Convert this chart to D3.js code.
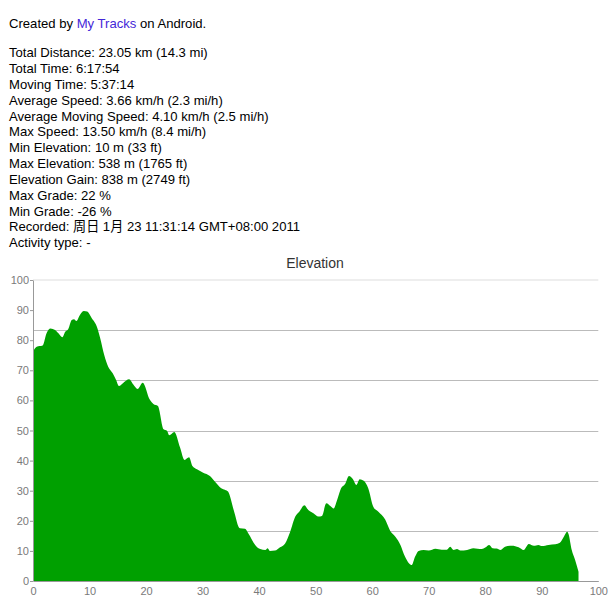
<!DOCTYPE html>
<html>
<head>
<meta charset="utf-8">
<style>
	body {
		margin: 0;
		background: white;
		font-family: "Liberation Sans", Arial, "Noto Sans CJK SC", sans-serif;
	}
	svg {
		position: absolute;
		left: 0;
		top: 0;
	}
	.info {
		font-size: 13.1px;
		fill: #000;
	}
	.link {
		fill: #4427d8;
	}
	.axis path, .axis line {
		stroke: #999;
	}
	.axis text {
		fill: #7a7a7a;
		font-size: 11px;
		font-family: "Liberation Sans", Arial, sans-serif;
	}
	.grid {
		stroke: #bbb;
	}
	.gridtop {
		stroke: #ddd;
	}
	.area {
		fill: #00a000;
	}
</style>
</head>
<body>
<svg width="610" height="605"></svg>

<script src="https://cdn.jsdelivr.net/npm/d3@7/dist/d3.min.js"></script>
<script>
const width = 610;
const height = 605;

// summary lines shown above the chart
var infoLines = [
	"Total Distance: 23.05 km (14.3 mi)",
	"Total Time: 6:17:54",
	"Moving Time: 5:37:14",
	"Average Speed: 3.66 km/h (2.3 mi/h)",
	"Average Moving Speed: 4.10 km/h (2.5 mi/h)",
	"Max Speed: 13.50 km/h (8.4 mi/h)",
	"Min Elevation: 10 m (33 ft)",
	"Max Elevation: 538 m (1765 ft)",
	"Elevation Gain: 838 m (2749 ft)",
	"Max Grade: 22 %",
	"Min Grade: -26 %",
	"Recorded: 周日 1月 23 11:31:14 GMT+08:00 2011",
	"Activity type: -"
];

var xTicks = [0, 10, 20, 30, 40, 50, 60, 70, 80, 90, 100];
var yTicks = [0, 10, 20, 30, 40, 50, 60, 70, 80, 90, 100];

// profile (percent of track vs. scaled elevation)
var distance = [
	0, 0.65, 1.7, 2.4, 3.1, 3.9, 4.5, 5.2, 5.7, 6.25,
	6.85, 7.25, 7.7, 8.3, 9.0, 9.6, 10.4, 11.3, 11.9, 12.6,
	13.3, 14.1, 14.7, 15.2, 16.0, 17.0, 17.75, 18.5, 19.4, 20.7,
	21.3, 22.1, 23.1, 23.7, 24.1, 25.0, 26.0, 26.8, 27.6, 28.2,
	29.0, 30.1, 31.3, 32.2, 33.3, 34.0, 34.5, 35.5, 36.6, 37.5,
	38.1, 39.3, 40.2, 41.1, 41.5, 41.9, 42.8, 43.7, 44.6, 45.5,
	46.4, 47.1, 48.0, 48.7, 49.6, 50.5, 51.1, 51.9, 52.6, 53.2,
	53.8, 54.5, 55.2, 55.9, 56.6, 57.2, 57.8, 58.5, 59.3, 60.2,
	61.1, 62.3, 63.2, 64.1, 65.0, 65.8, 66.5, 67.0, 67.6, 68.2,
	69.1, 70.0, 71.2, 72.3, 73.2, 73.8, 74.4, 75.0, 75.6, 76.8,
	77.9, 79.4, 80.0, 80.7, 81.3, 82.0, 82.7, 83.5, 84.7, 85.9,
	86.8, 87.7, 88.6, 89.4, 90.0, 91.2, 92.4, 93.2, 93.9, 94.5,
	94.7, 95.3, 95.9, 96.5
];
var elevation = [
	76.2, 77.8, 78.2, 82.3, 83.9, 83.4, 82.3, 81.0, 82.8, 83.7,
	86.7, 87.0, 86.4, 88.4, 89.7, 89.5, 87.3, 84.5, 80.6, 75.1,
	71.2, 69.0, 66.8, 64.8, 65.9, 67.0, 65.3, 63.8, 65.9, 60.1,
	58.8, 58.1, 50.4, 49.9, 48.4, 49.5, 44.4, 40.2, 41.1, 38.2,
	37.1, 36.0, 34.9, 33.0, 30.8, 30.2, 29.7, 23.6, 17.5, 17.4,
	15.8, 12.0, 10.6, 10.3, 10.9, 10.0, 10.1, 11.2, 12.5, 16.4,
	21.4, 23.0, 25.2, 23.6, 22.5, 21.4, 21.6, 25.8, 24.9, 24.1,
	26.9, 30.8, 32.2, 34.9, 33.8, 31.9, 33.8, 33.3, 30.8, 24.7,
	23.0, 20.4, 16.6, 14.7, 12.0, 8.1, 5.9, 5.3, 8.1, 10.0,
	10.3, 10.1, 10.7, 10.4, 10.4, 11.4, 10.3, 10.6, 10.1, 10.3,
	10.9, 10.6, 11.1, 12.0, 10.9, 10.8, 10.3, 11.4, 11.7, 11.2,
	10.3, 12.3, 11.7, 12.0, 11.6, 12.0, 12.2, 12.7, 14.7, 16.4,
	15.8, 10.3, 7.0, 3.1
];

var svg = d3.select("svg");

// header text
var header = svg.append("text")
	.attr("class", "info")
	.attr("x", 9)
	.attr("y", 27.5);
header.append("tspan").text("Created by ");
header.append("tspan").attr("class", "link").text("My Tracks");
header.append("tspan").text(" on Android.");

svg.selectAll(".line")
	.data(infoLines)
	.enter()
	.append("text")
		.attr("class", "info line")
		.attr("x", 9)
		.attr("y", function(d, i) { return 57.3 + i * 15.83; })
		.text(function(d) { return d; });

// chart
var x = d3.scaleLinear().domain([0, 100]).range([33, 598.3]);
var y = d3.scaleLinear().domain([0, 100]).range([581, 280]);

svg.append("text")
	.attr("x", 315)
	.attr("y", 268)
	.attr("text-anchor", "middle")
	.style("font-size", "14px")
	.style("fill", "#333")
	.text("Elevation");

// google-style gridlines: 6 equal bands
var gridValues = d3.range(1, 6).map(function(i) { return i * 100 / 6; });

svg.append("line")
	.attr("class", "gridtop")
	.attr("x1", x(0)).attr("x2", x(100))
	.attr("y1", y(100)).attr("y2", y(100));

svg.selectAll(".grid")
	.data(gridValues)
	.enter()
	.append("line")
		.attr("class", "grid")
		.attr("x1", x(0)).attr("x2", x(100))
		.attr("y1", function(d) { return Math.round(y(d)) + 0.5; })
		.attr("y2", function(d) { return Math.round(y(d)) + 0.5; });

var points = distance.map(function(d, i) { return [d, elevation[i]]; });

var area = d3.area()
	.x(function(d) { return x(d[0]); })
	.y0(y(0))
	.y1(function(d) { return y(d[1]); })
	.curve(d3.curveMonotoneX);

svg.append("path")
	.datum(points)
	.attr("class", "area")
	.attr("d", area);

svg.append("g")
	.attr("class", "axis")
	.attr("transform", "translate(0," + y(0) + ")")
	.call(d3.axisBottom(x).tickValues(xTicks).tickSize(0).tickPadding(6).tickSizeOuter(0));

svg.append("g")
	.attr("class", "axis")
	.attr("transform", "translate(" + x(0) + ",0)")
	.call(d3.axisLeft(y).tickValues(yTicks).tickSize(3).tickPadding(1).tickSizeOuter(0));
</script>
</body>
</html>
